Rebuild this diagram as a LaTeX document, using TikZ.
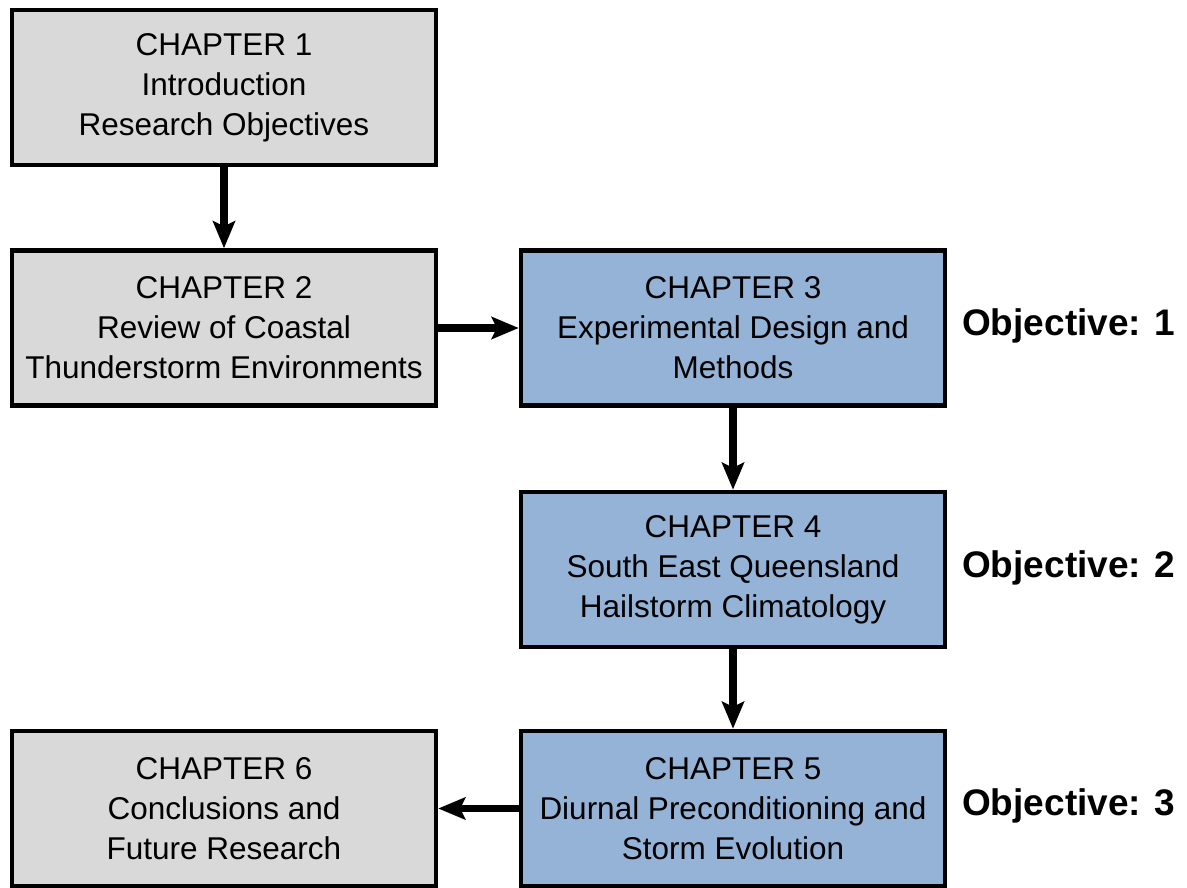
\documentclass[tikz,border=0pt]{standalone}
\usepackage{fontspec}
\setmainfont{Liberation Sans}
\usetikzlibrary{arrows.meta}
\definecolor{boxgray}{HTML}{D9D9D9}
\definecolor{boxblue}{HTML}{95B3D7}
\tikzset{
  chap/.style={draw=black, line width=4.5pt, minimum width=424pt, minimum height=155pt, inner sep=0pt, align=center, font=\fontsize{31.5}{40}\selectfont},
  grayc/.style={chap, fill=boxgray},
  bluec/.style={chap, fill=boxblue},
  flow/.style={line width=7.5pt, -{Stealth[length=27pt,width=22pt,inset=5pt]}},
  obj/.style={font=\fontsize{37}{42}\selectfont\bfseries, anchor=west, inner sep=0pt}
}
\begin{document}
\begin{tikzpicture}[x=1pt,y=-1pt]
\useasboundingbox (0,0) rectangle (1187,888);
\node[grayc] (c1) at (224,87.5) {CHAPTER 1\\Introduction\\Research Objectives};
\node[grayc] (c2) at (224,328) {CHAPTER 2\\Review of Coastal\\Thunderstorm Environments};
\node[bluec] (c3) at (733,328) {CHAPTER 3\\Experimental Design and\\Methods};
\node[bluec] (c4) at (733,569.5) {CHAPTER 4\\South East Queensland\\Hailstorm Climatology};
\node[bluec] (c5) at (733,808.5) {CHAPTER 5\\Diurnal Preconditioning and\\Storm Evolution};
\node[grayc] (c6) at (224,808.5) {CHAPTER 6\\Conclusions and\\Future Research};
\node[obj] (o1) at (962,326) {Objective: 1};
\node[obj] (o2) at (962,568) {Objective: 2};
\node[obj] (o3) at (962,806) {Objective: 3};
\draw[flow] (c1.south) -- (c2.north);
\draw[flow] (c2.east) -- (c3.west);
\draw[flow] (c3.south) -- (c4.north);
\draw[flow] (c4.south) -- (c5.north);
\draw[flow] (c5.west) -- (c6.east);
\end{tikzpicture}
\end{document}
